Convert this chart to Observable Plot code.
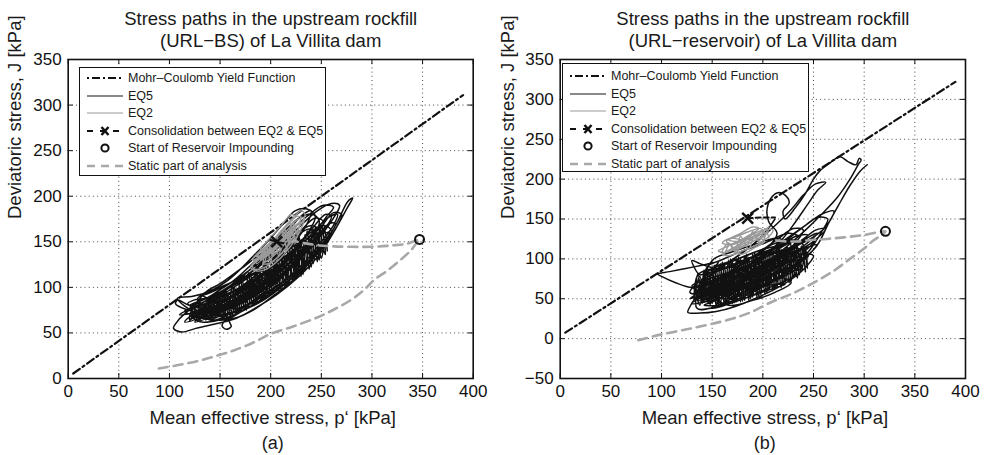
<!DOCTYPE html>
<html><head><meta charset="utf-8">
<script src="https://cdn.jsdelivr.net/npm/d3@7"></script>
<script src="https://cdn.jsdelivr.net/npm/@observablehq/plot@0.6"></script>
<style>
body{margin:0;background:#fff;font-family:"Liberation Sans",Arial,Helvetica,sans-serif;}
#wrap{position:relative;width:986px;height:455px;overflow:hidden;background:#fff;}
.panel{position:absolute;top:0;width:493px;height:455px;}
.legend{position:absolute;background:#fff;border:1.4px solid #111;box-sizing:border-box;font-size:12.5px;color:#1a1a1a;}
.row{position:absolute;left:0;height:14px;display:flex;align-items:center;white-space:nowrap;}
.row svg{margin-left:7px;margin-right:5px;}
</style></head>
<body><div id="wrap"></div>
<script>
// ---------- data ----------
const xTicks = [0, 50, 100, 150, 200, 250, 300, 350, 400];
const yTicksA = [0, 50, 100, 150, 200, 250, 300, 350];
const yTicksB = [-50, 0, 50, 100, 150, 200, 250, 300, 350];

const titleA = "Stress paths in the upstream rockfill\n(URL\u2212BS) of La Villita dam";
const titleB = "Stress paths in the upstream rockfill\n(URL\u2212reservoir) of La Villita dam";
const xLabel = "Mean effective stress, p\u2018 [kPa]";
const yLabel = "Deviatoric stress, J [kPa]";
const captionA = "(a)";
const captionB = "(b)";
const legendLabels = ["Mohr\u2013Coulomb Yield Function", "EQ5", "EQ2", "Consolidation between EQ2 & EQ5", "Start of Reservoir Impounding", "Static part of analysis"];

// Mohr-Coulomb yield lines
const mcA = [[5, 5.5], [390, 311]];
const mcB = [[5, 7.5], [390, 322]];

// static part of analysis
const staticA = [[89.5,11],[110,15],[131,20],[150,26],[164,31],[182,39],[200,49],[222,57],[246,67],[263,76],[279,86],[292,97],[302,108],[316,119],[328,130],[338,140],[345,150],[347,152.6],[335,148],[320,146],[300,144.5],[280,144.5],[262,145],[248,146],[236,148],[222,151]];
const staticB = [[77,-2],[99,5],[130,13],[164,23],[186,32],[207,45],[230,57],[250,70],[270,85],[286,100],[300,113],[309,123],[317,130],[321,134.5],[300,130],[280,127],[263,125],[250,124],[236,122],[222,122],[208,124]];

// start of reservoir impounding
const startA = [[347, 152.6]];
const startB = [[321, 134.5]];

// consolidation between EQ2 & EQ5
const consA = [[200,152],[206,150],[214,148]];
const consMarkA = [[206,150]];
const consB = [[185,151],[198,152],[212,152]];
const consMarkB = [[185,151]];

// EQ5 stress path (URL-BS)
const eq5A = [[216,148],[205,135],[190,118],[172,100],[155,86],[140,76],[128,70],[138,66],[155,70],[175,80],[195,96],[215,115],[232,136],[246,158],[252,172],[244,176],[228,160],[210,140],[192,120],[172,102],[152,88],[134,80],[120,80],[108,86],[106,82],[116,76],[134,72],[156,76],[180,88],[204,106],[226,128],[246,152],[262,176],[268,190],[260,192],[246,184],[228,166],[208,144],[188,124],[168,106],[148,92],[130,82],[116,72],[106,60],[104,55],[112,51],[126,55],[146,60],[166,66],[186,78],[206,92],[228,112],[248,136],[264,164],[276,188],[281,198],[276,194],[266,172],[252,146],[234,122],[212,102],[190,86],[168,72],[148,64],[132,62],[124,66],[136,72],[156,78],[178,90],[200,108],[222,130],[240,154],[254,176],[262,188],[252,190],[236,178],[218,160],[198,138],[178,118],[160,102],[142,90],[128,84],[120,76],[132,70],[150,70],[170,76],[192,90],[214,108],[234,128],[250,150],[262,168],[266,180],[256,176],[240,158],[222,138],[202,118],[182,100],[164,86],[146,76],[134,68],[146,64],[164,66],[184,76],[204,92],[224,110],[242,132],[256,154],[264,170],[258,170],[244,154],[226,134],[206,114],[188,98],[170,86],[152,76],[138,72],[150,74],[170,82],[190,96],[210,114],[228,134],[242,156],[248,172],[242,180],[228,176],[212,160],[196,142],[180,124],[164,108],[148,96],[136,88],[124,86],[118,82],[130,78],[150,80],[168,88],[186,100],[206,118],[224,140],[238,162],[244,178],[236,186],[224,184],[214,172],[200,154],[186,138],[172,122],[158,108],[144,98],[132,92],[140,88],[156,92],[172,100],[190,114],[208,130],[224,150],[236,170],[240,184],[232,180],[220,166],[206,150],[192,134],[178,118],[162,102],[148,90],[136,80],[148,78],[164,82],[182,92],[200,104],[218,120],[236,140],[252,162],[260,178],[254,180],[242,166],[228,148],[212,128],[196,110],[178,94],[162,80],[156,66],[152,58],[156,54],[161,57],[159,64],[166,70],[182,80],[200,94],[218,108],[234,124],[248,144],[258,160],[250,158],[236,142],[220,124],[204,108],[186,94],[168,82],[152,74],[140,70],[152,70],[170,74],[190,84],[208,98],[226,116],[240,136],[250,150],
[125,62],[150,72],[175,86],[200,104],[225,126],[235,140],[222,146],[200,128],[175,110],[150,94],[125,80],
[130,66],[155,78],[180,94],[205,114],[230,138],[250,160],[240,168],[215,150],[190,128],[165,108],[140,94],[128,88],
[140,64],[165,74],[190,90],[215,108],[240,134],[232,144],[210,130],[185,108],[160,94],[138,82],
[115,62],[140,70],[165,82],[190,100],[215,120],[205,124],[180,106],[155,92],[130,80],[115,74],
[150,64],[175,76],[200,92],[225,114],[250,142],[260,162],[252,168],[228,150],[205,130],[180,112],[158,96],
[135,78],[160,90],[185,104],[210,124],[225,140],[215,150],[195,140],[170,120],[150,104],[135,94],
[120,66],[140,72],[160,82],[180,96],[200,112],[192,118],[172,110],[152,96],[132,86],[120,80],
[170,78],[195,94],[220,112],[245,136],[265,166],[270,180],[262,182],[248,164],[228,146],[205,126],[182,104],
[145,78],[170,90],[195,108],[220,128],[245,154],[238,164],[215,146],[190,124],[165,104],[145,90],
[110,70],[130,74],[150,82],[170,94],[190,108],[182,114],[162,106],[142,96],[122,90],[108,88],
[128,72],[148,78],[168,88],[188,102],[208,118],[228,138],[220,146],[200,132],[180,116],[160,100],[140,86],
[120,64],[124,80],[128,63],[132,83],[136,64],[140,87],[144,65],[148,91],[152,66],[156,96],[160,68],[164,101],[168,71],[172,108],[176,75],[180,116],[184,80],[188,122],[192,85],[196,130],[200,91],[204,136],[208,96],[212,142],[216,102],[220,150],[224,108],[228,156],[232,114],[236,162],[240,122],[244,166],[248,130],[252,170],[256,140],
[254,150],[250,132],[246,160],[242,126],[238,154],[234,118],[230,148],[226,112],[222,142],[218,104],[214,134],[210,98],[206,128],[202,94],[198,122],[194,88],[190,116],[186,82],[182,110],[178,78],[174,104],[170,74],[166,98],[162,70],[158,92],[154,68],[150,88],[146,66],[142,84],[138,66],[134,80],[130,64],[126,76],[122,66],
[122,70],[126,64],[130,84],[134,66],[138,88],[142,66],[146,92],[150,68],[154,96],[158,70],[162,102],[166,72],[170,110],[174,76],[178,116],[182,80],[186,124],[190,86],[194,130],[198,90],[202,138],[206,96],[210,144],[214,100],[218,148],[222,106],[226,154],[230,112],[234,158],[238,120],[242,164],[246,128],[250,168],[254,136],
[250,146],[244,136],[240,150],[234,126],[230,140],[224,116],[220,130],[214,108],[210,122],[204,100],[200,114],[194,92],[190,106],[184,86],[180,100],[174,80],[170,92],[164,76],[160,86],[154,72],[150,82],[144,70],[140,78],[134,68],[130,76],[124,68]];

// EQ2 stress path (URL-BS)
const eq2A = [[208,152],[198,140],[188,130],[182,124],[184,120],[194,122],[204,130],[214,142],[222,155],[230,170],[234,180],[230,184],[222,176],[212,164],[202,150],[192,138],[184,128],[180,122],[186,118],[196,120],[206,128],[216,140],[224,152],[230,164],[233,176],[226,174],[216,162],[206,150],[196,140],[188,132],[182,130],[186,136],[196,146],[206,156],[216,168],[224,178],[220,180],[212,170],[204,160],[196,150],[190,142],[194,138],[202,142],[212,150],[220,160],[226,168],[222,160],[214,148],[206,138],[198,130],[192,126],[198,126],[208,134],[216,144],[224,156],[218,158],[208,152],[190,130],[205,142],[220,160],[230,176],[226,178],[212,162],[198,146],[186,134],[196,136],[210,150],[224,168],[218,170],[204,154],[192,140],[200,140],[214,154],[226,170],
[186,126],[190,140],[194,128],[198,148],[202,134],[206,156],[210,140],[214,164],[218,148],[222,172],[226,158],[230,178],[228,166],[224,150],[220,170],[216,142],[212,160],[208,134],[204,152],[200,128],[196,144],[192,124]];

// EQ5 stress path (URL-reservoir)
const eq5B = [[212,150],[204,136],[192,120],[176,104],[160,90],[146,78],[134,68],[128,58],[140,56],[158,62],[178,74],[198,88],[218,104],[232,120],[240,136],[230,138],[214,124],[196,108],[178,92],[160,78],[144,66],[134,52],[128,40],[126,33],[138,32],[154,34],[172,40],[192,50],[212,62],[230,76],[244,92],[250,104],[240,106],[222,94],[202,80],[182,66],[164,54],[150,46],[142,42],[156,42],[176,50],[196,62],[216,76],[234,94],[248,114],[258,134],[264,150],[254,152],[240,140],[222,122],[204,106],[186,92],[166,78],[148,68],[130,64],[114,70],[100,78],[96,81],[108,84],[124,88],[140,92],[156,96],[148,86],[138,80],[132,90],[130,98],[138,94],[154,88],[172,90],[190,98],[206,110],[220,126],[232,146],[244,168],[254,186],[262,196],[252,194],[240,180],[228,162],[214,144],[198,126],[182,110],[166,96],[150,84],[140,74],[152,68],[170,74],[190,86],[210,100],[230,114],[248,126],[262,140],[270,160],[258,156],[242,142],[224,126],[206,110],[188,94],[170,80],[156,68],[148,58],[162,54],[180,58],[200,66],[222,68],[208,62],[190,54],[172,46],[158,40],[148,38],[160,44],[178,56],[198,70],[218,86],[236,104],[252,124],[240,122],[222,106],[202,90],[184,76],[168,64],[154,56],[144,60],[156,74],[172,88],[190,102],[206,116],[214,132],[206,146],[204,160],[208,176],[215,183],[222,180],[226,170],[220,160],[222,150],[232,164],[242,182],[250,200],[256,210],[266,220],[276,228],[284,222],[292,218],[295,226],[297,224],[294,218],[286,200],[274,178],[258,156],[242,136],[226,118],[208,100],[190,84],[172,70],[160,60],[174,64],[194,76],[212,90],[228,104],[242,118],[254,132],[246,128],[230,112],[212,96],[194,82],[176,68],[162,56],[168,52],[186,62],[204,76],[220,92],[236,110],[250,122],[262,138],[252,136],[236,120],[218,102],[200,86],[182,72],[166,60],[152,52],[146,50],[160,60],[178,74],[196,88],[214,102],[230,116],[244,130],[232,128],[214,112],[196,96],[178,82],[160,70],[146,62],[138,58],[150,62],[168,72],[186,84],[204,96],[222,110],[238,122],[226,120],[208,106],[190,92],[172,78],[156,66],[142,56],[136,48],[148,50],[166,58],[184,68],[202,80],[220,94],[234,100],[238,88],[226,84],[210,74],[192,64],[176,56],[168,50],[182,56],[200,66],[218,78],[232,90],[244,104],[254,118],
[130,44],[155,50],[180,62],[205,76],[230,92],[238,104],[225,108],[200,96],[175,84],[150,72],[132,62],
[140,60],[165,70],[190,84],[215,100],[240,116],[232,124],[208,112],[184,100],[160,88],[142,78],
[135,38],[160,42],[185,52],[210,66],[232,80],[226,88],[204,78],[180,66],[156,56],[138,50],
[150,80],[172,92],[195,104],[218,116],[235,128],[225,132],[202,120],[180,110],[158,98],[145,90],
[145,48],[170,58],[195,72],[220,86],[245,104],[238,112],[214,98],[190,86],[166,74],[146,64],
[128,50],[150,60],[175,72],[200,86],[222,102],[214,108],[192,96],[168,84],[145,74],[130,66],
[160,50],[185,60],[210,72],[235,90],[228,98],[204,86],[180,74],[160,66],
[150,86],[175,100],[200,112],[222,120],[215,126],[192,118],[168,108],[150,98],
[140,55],[165,64],[190,76],[215,90],[240,108],[232,114],[208,100],[184,90],[160,80],[140,70],
[165,42],[190,48],[212,58],[228,70],[220,76],[198,66],[176,56],[162,50],
[136,66],[158,76],[182,90],[206,104],[228,116],[220,122],[196,110],[172,98],[150,88],[136,80],
[132,48],[136,82],[140,44],[144,88],[148,42],[152,92],[156,42],[160,96],[164,43],[168,100],[172,45],[176,102],[180,47],[184,106],[188,50],[192,108],[196,53],[200,110],[204,57],[208,112],[212,62],[216,114],[220,67],[224,116],[228,72],[232,117],[236,80],[240,118],[244,88],
[242,112],[238,84],[234,115],[230,76],[226,113],[222,70],[218,112],[214,64],[210,110],[206,60],[202,108],[198,55],[194,105],[190,52],[186,102],[182,48],[178,100],[174,46],[170,96],[166,44],[162,92],[158,42],[154,88],[150,44],[146,84],[142,46],[138,78],
[134,60],[138,42],[142,86],[146,44],[150,90],[154,40],[158,94],[162,42],[166,98],[170,44],[174,100],[178,46],[182,104],[186,48],[190,106],[194,52],[198,108],[202,56],[206,110],[210,60],[214,112],[218,64],[222,114],[226,70],[230,116],[234,76],[238,116],[242,84],
[240,100],[234,90],[230,106],[224,80],[220,100],[214,72],[210,96],[204,66],[200,92],[194,60],[190,88],[184,56],[180,84],[174,52],[170,80],[164,50],[160,76],[154,48],[150,72],[144,50],[140,68],[136,52],
[226,96],[240,100],[254,118],[265,145],[275,168],[286,192],[296,210],[303,218]];

// EQ2 stress path (URL-reservoir)
const eq2B = [[206,140],[196,132],[182,122],[168,112],[160,106],[166,104],[180,110],[194,118],[206,128],[210,136],[200,136],[186,128],[172,120],[162,114],[156,110],[162,108],[176,114],[190,122],[202,130],[198,138],[186,134],[174,128],[164,122],[170,118],[182,124],[196,130],[206,134],[196,126],[182,116],[172,108],[180,106],[192,114],[202,122],[194,126],[180,124],[168,126],[160,120],[170,118],[184,128],[196,138],[190,140],[178,132],[166,124],[176,122],[190,128],[200,132],
[160,108],[166,120],[172,110],[178,128],[184,116],[190,134],[196,122],[202,138],[206,126],[204,132],[198,118],[192,130],[186,112],[180,124],[174,108],[168,118],[162,106]];

// ---------- drawing ----------
const FONT = "Liberation Sans, Arial, Helvetica, sans-serif";
const px = d => d[0], py = d => d[1];

function makePanel(c) {
  const gridStyle = {stroke: "#333", strokeOpacity: 1, strokeWidth: 0.9, strokeDasharray: "1,3.2"};
  const fh = 455 - 59 - 77, fw = 493 - c.ml - c.mr, tk = 5;
  return Plot.plot({
    width: 493, height: 455,
    marginLeft: c.ml, marginRight: c.mr, marginTop: 59, marginBottom: 77,
    style: {fontFamily: FONT, background: "transparent", color: "#111"},
    x: {domain: [0, 400]},
    y: {domain: c.yDomain},
    marks: [
      Plot.gridX(xTicks.slice(1, -1), gridStyle),
      Plot.gridY(c.yTicks.slice(1, -1), gridStyle),
      Plot.axisX(xTicks, {anchor: "bottom", tickSize: 0, tickPadding: 6, fontSize: 17, label: null}),
      Plot.axisY(c.yTicks, {anchor: "left", tickSize: 0, tickPadding: 6.5, fontSize: 17, label: null}),
      Plot.ruleX(xTicks, {x: d => d, insetTop: fh - tk, stroke: "#111", strokeWidth: 1}),
      Plot.ruleX(xTicks, {x: d => d, insetBottom: fh - tk, stroke: "#111", strokeWidth: 1}),
      Plot.ruleY(c.yTicks, {y: d => d, insetRight: fw - tk, stroke: "#111", strokeWidth: 1}),
      Plot.ruleY(c.yTicks, {y: d => d, insetLeft: fw - tk, stroke: "#111", strokeWidth: 1}),
      Plot.line(c.mc, {x: px, y: py, stroke: "#111", strokeWidth: 2.2, strokeDasharray: "8,3.5,2,3.5"}),
      Plot.line(c.eq5, {x: px, y: py, stroke: "#111", strokeWidth: 1.5, curve: "catmull-rom"}),
      Plot.line(c.eq2, {x: px, y: py, stroke: "#9a9a9a", strokeWidth: 1.4, curve: "catmull-rom"}),
      Plot.line(c.stat, {x: px, y: py, stroke: "#a8a8a8", strokeWidth: 2.6, strokeDasharray: "9,6", curve: "catmull-rom"}),
      Plot.line(c.cons, {x: px, y: py, stroke: "#111", strokeWidth: 2, strokeDasharray: "5,3"}),
      Plot.dot(c.consMark, {x: px, y: py, symbol: "times", r: 5, stroke: "#111", strokeWidth: 2.5}),
      Plot.dot(c.start, {x: px, y: py, symbol: "circle", r: 4.5, stroke: "#111", strokeWidth: 2, fill: "none"}),
      Plot.frame({stroke: "#111", strokeWidth: 1.6}),
      Plot.text([c.title], {text: d => d, frameAnchor: "top", dy: -13, lineAnchor: "bottom", lineHeight: 1.19, fontSize: 18.5, fill: "#1a1a1a"}),
      Plot.text([xLabel], {text: d => d, frameAnchor: "bottom", dy: 45.5, dx: 2, lineAnchor: "bottom", fontSize: 18.5, fill: "#1a1a1a"}),
      Plot.text([c.caption], {text: d => d, frameAnchor: "bottom", dy: 70, dx: 2, lineAnchor: "bottom", fontSize: 18, fill: "#1a1a1a"}),
      Plot.text([yLabel], {text: d => d, frameAnchor: "left", rotate: -90, dx: 20.5 - c.ml, lineAnchor: "bottom", fontSize: 18.5, fill: "#1a1a1a"})
    ]
  });
}

function sample(kind) {
  const ns = "http://www.w3.org/2000/svg";
  const s = document.createElementNS(ns, "svg");
  s.setAttribute("width", 36); s.setAttribute("height", 14);
  const add = (tag, attrs) => { const e = document.createElementNS(ns, tag); for (const k in attrs) e.setAttribute(k, attrs[k]); s.appendChild(e); };
  if (kind === 0) add("line", {x1: 0, x2: 36, y1: 7, y2: 7, stroke: "#111", "stroke-width": 2, "stroke-dasharray": "2,3,8,3"});
  if (kind === 1) add("line", {x1: 0, x2: 36, y1: 7, y2: 7, stroke: "#151515", "stroke-width": 1.1});
  if (kind === 2) add("line", {x1: 0, x2: 36, y1: 7, y2: 7, stroke: "#9a9a9a", "stroke-width": 1.1});
  if (kind === 3) {
    add("line", {x1: 0, x2: 36, y1: 7, y2: 7, stroke: "#111", "stroke-width": 2, "stroke-dasharray": "6,7"});
    add("path", {d: "M14.5,3L21.5,11M21.5,3L14.5,11", stroke: "#111", "stroke-width": 2.5, fill: "none"});
  }
  if (kind === 4) add("circle", {cx: 18, cy: 7, r: 3.6, stroke: "#111", "stroke-width": 2, fill: "none"});
  if (kind === 5) add("line", {x1: 0, x2: 36, y1: 7, y2: 7, stroke: "#a8a8a8", "stroke-width": 2.4, "stroke-dasharray": "8,6"});
  return s;
}

function makeLegend(left, top, w, h, first) {
  const box = document.createElement("div");
  box.className = "legend";
  Object.assign(box.style, {left: left + "px", top: top + "px", width: w + "px", height: h + "px"});
  legendLabels.forEach((lab, i) => {
    const r = document.createElement("div");
    r.className = "row";
    r.style.top = (first + i * 17.55 - 7) + "px";
    r.appendChild(sample(i));
    const t = document.createElement("span");
    t.textContent = lab;
    r.appendChild(t);
    box.appendChild(r);
  });
  return box;
}

const wrap = document.getElementById("wrap");
const panels = [
  {left: 0, ml: 67.7, mr: 20.3, yDomain: [0, 350], yTicks: yTicksA, mc: mcA, eq5: eq5A, eq2: eq2A, stat: staticA, cons: consA, consMark: consMarkA, start: startA, title: titleA, caption: captionA, lg: [79, 67.3, 247, 108.5, 10]},
  {left: 493, ml: 66.7, mr: 21, yDomain: [-50, 350], yTicks: yTicksB, mc: mcB, eq5: eq5B, eq2: eq2B, stat: staticB, cons: consB, consMark: consMarkB, start: startB, title: titleB, caption: captionB, lg: [69, 63.3, 246.5, 109, 11.7]}
];
for (const c of panels) {
  const d = document.createElement("div");
  d.className = "panel";
  d.style.left = c.left + "px";
  d.appendChild(makePanel(c));
  d.appendChild(makeLegend(...c.lg));
  wrap.appendChild(d);
}
</script>
</body></html>
